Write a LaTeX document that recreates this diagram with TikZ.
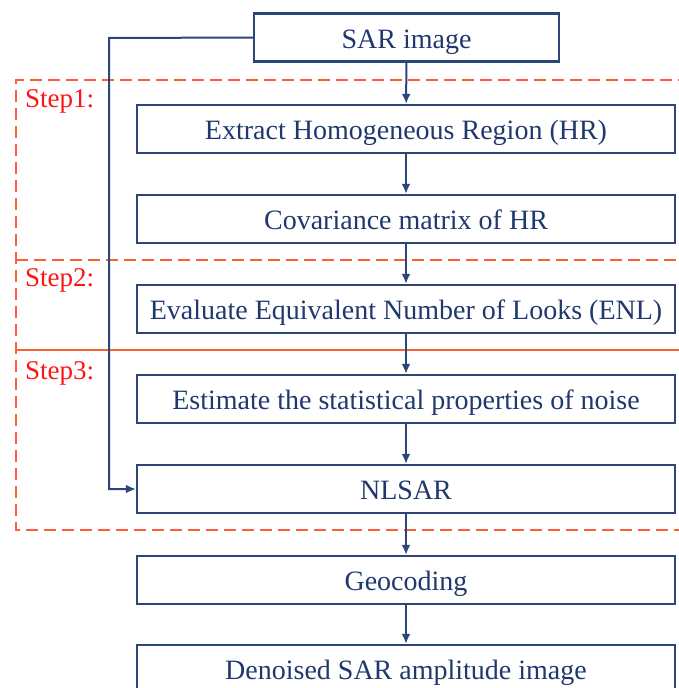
\documentclass[tikz,border=0pt]{standalone}
\usepackage{fontspec}
\setmainfont{Liberation Serif}
\usetikzlibrary{arrows.meta}
\definecolor{navy}{RGB}{31,56,110}
\definecolor{boxline}{RGB}{45,70,120}
\definecolor{steptext}{RGB}{255,20,20}
\definecolor{stepline}{RGB}{255,95,55}
\begin{document}
\begin{tikzpicture}[x=1pt,y=-1pt,
  flowbox/.style={draw=boxline,line width=2.4pt,minimum height=48pt,
    inner sep=0pt,text height=25pt,text depth=4pt,
    font=\fontsize{28}{32}\selectfont,text=navy},
  widebox/.style={flowbox,minimum width=538pt},
  flow/.style={draw=boxline,line width=2pt,-{Latex[length=10pt,width=9pt]}},
  steplabel/.style={font=\fontsize{27}{30}\selectfont,text=steptext,anchor=west,inner sep=0pt},
  stepdash/.style={draw=stepline,line width=2pt,dash pattern=on 12pt off 6pt},
  stepsolid/.style={draw=stepline,line width=2pt}]
\useasboundingbox (0,0) rectangle (679,688);

% process boxes
\node[flowbox,minimum width=305pt] (sar) at (406.5,37.5) {SAR image};
\node[widebox] (hr)   at (406,129) {Extract Homogeneous Region (HR)};
\node[widebox] (cov)  at (406,219) {Covariance matrix of HR};
\node[widebox] (enl)  at (406,309) {Evaluate Equivalent Number of Looks (ENL)};
\node[widebox] (est)  at (406,399) {Estimate the statistical properties of noise};
\node[widebox] (nl)   at (406,489) {NLSAR};
\node[widebox] (geo)  at (406,580) {Geocoding};
\node[widebox] (den)  at (406,669) {Denoised SAR amplitude image};

% step frame
\coordinate (fa) at (16,80);
\coordinate (fb) at (690,80);
\coordinate (fc) at (16,530);
\coordinate (fd) at (690,530);
\draw[stepdash] (fb) -- (fa) -- (fc) -- (fd);
\coordinate (s2a) at (16,260);
\coordinate (s2b) at (690,260);
\draw[stepdash] (s2a) -- (s2b);
\coordinate (s3a) at (16,350);
\coordinate (s3b) at (690,350);
\draw[stepsolid] (s3a) -- (s3b);

\node[steplabel] (st1) at (25,101) {Step1:};
\node[steplabel] (st2) at (25,280) {Step2:};
\node[steplabel] (st3) at (25,373) {Step3:};

% main flow
\draw[flow] (sar) -- (hr);
\draw[flow] (hr) -- (cov);
\draw[flow] (cov) -- (enl);
\draw[flow] (enl) -- (est);
\draw[flow] (est) -- (nl);
\draw[flow] (nl) -- (geo);
\draw[flow] (geo) -- (den);

% bypass from the input image to NLSAR
\coordinate (bt) at (109,38);
\coordinate (bb) at (109,489);
\draw[flow] (sar.west) -- (bt) -- (bb) -- (nl.west);
\end{tikzpicture}
\end{document}
